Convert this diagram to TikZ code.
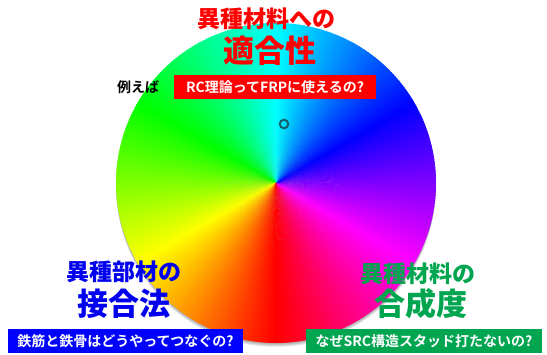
\documentclass[tikz,border=0pt]{standalone}
\usepackage{fontspec}
\usetikzlibrary{calc}
\setmainfont{Noto Sans CJK JP}[BoldFont={Noto Sans CJK JP Bold}]
\newfontfamily\heavyjp{Noto Sans CJK JP Black}
\definecolor{tred}{RGB}{255,0,0}
\definecolor{tblue}{RGB}{0,0,240}
\definecolor{bblue}{RGB}{0,0,255}
\definecolor{tgreen}{RGB}{0,165,80}
\definecolor{ringc}{RGB}{20,95,105}
\begin{document}
\begin{tikzpicture}[x=1pt,y=1pt,
  small/.style={font=\heavyjp\fontsize{23}{23}\selectfont, inner sep=0pt},
  big/.style={font=\heavyjp\fontsize{31}{31}\selectfont, inner sep=0pt},
  qbox/.style={minimum height=24pt, inner sep=0pt, text=white, font=\bfseries\fontsize{14}{14}\selectfont}]
\fill[white] (0,0) rectangle (547,354);
\useasboundingbox (0,0) rectangle (547,354);
\coordinate (c) at (276,171);
% soft shadow
\foreach \k in {1,...,5}{
  \fill[black, opacity=0.07] ($(c)+(0,-\k*0.8)$) circle[radius=160];
}
% colour wheel
\foreach \a in {0,...,359}{
  \pgfmathsetmacro\h{mod(630-\a,360)}
  \definecolor{wc}{Hsb}{\h,1,1}
  \fill[wc] (c) -- ++(\a-0.6:160) arc[start angle=\a-0.6, end angle=\a+0.8, radius=160] -- cycle;
}
\node[circle, draw=ringc, line width=2pt, minimum size=8.5pt, inner sep=0pt] (ring) at (284,230) {};
% top
\node[small, text=tred] (t1) at (266,335) {異種材料への};
\node[big, text=tred] (t2) at (270,303) {適合性};
\node[font=\bfseries\fontsize{14}{14}\selectfont, inner sep=0pt] (ex) at (138,267) {例えば};
\node[qbox, fill=tred, minimum width=202pt] (q1) at (275,267) {RC理論ってFRPに使えるの?};
% left
\node[small, text=tblue] (l1) at (124,82) {異種部材の};
\node[big, text=tblue] (l2) at (124,50) {接合法};
\node[qbox, fill=bblue, minimum width=235pt] (q2) at (125.5,13) {鉄筋と鉄骨はどうやってつなぐの?};
% right
\node[small, text=tgreen] (r1) at (418,80) {異種材料の};
\node[big, text=tgreen] (r2) at (421,50) {合成度};
\node[qbox, fill=tgreen, minimum width=236pt] (q3) at (424,13) {なぜSRC構造スタッド打たないの?};
\end{tikzpicture}
\end{document}
